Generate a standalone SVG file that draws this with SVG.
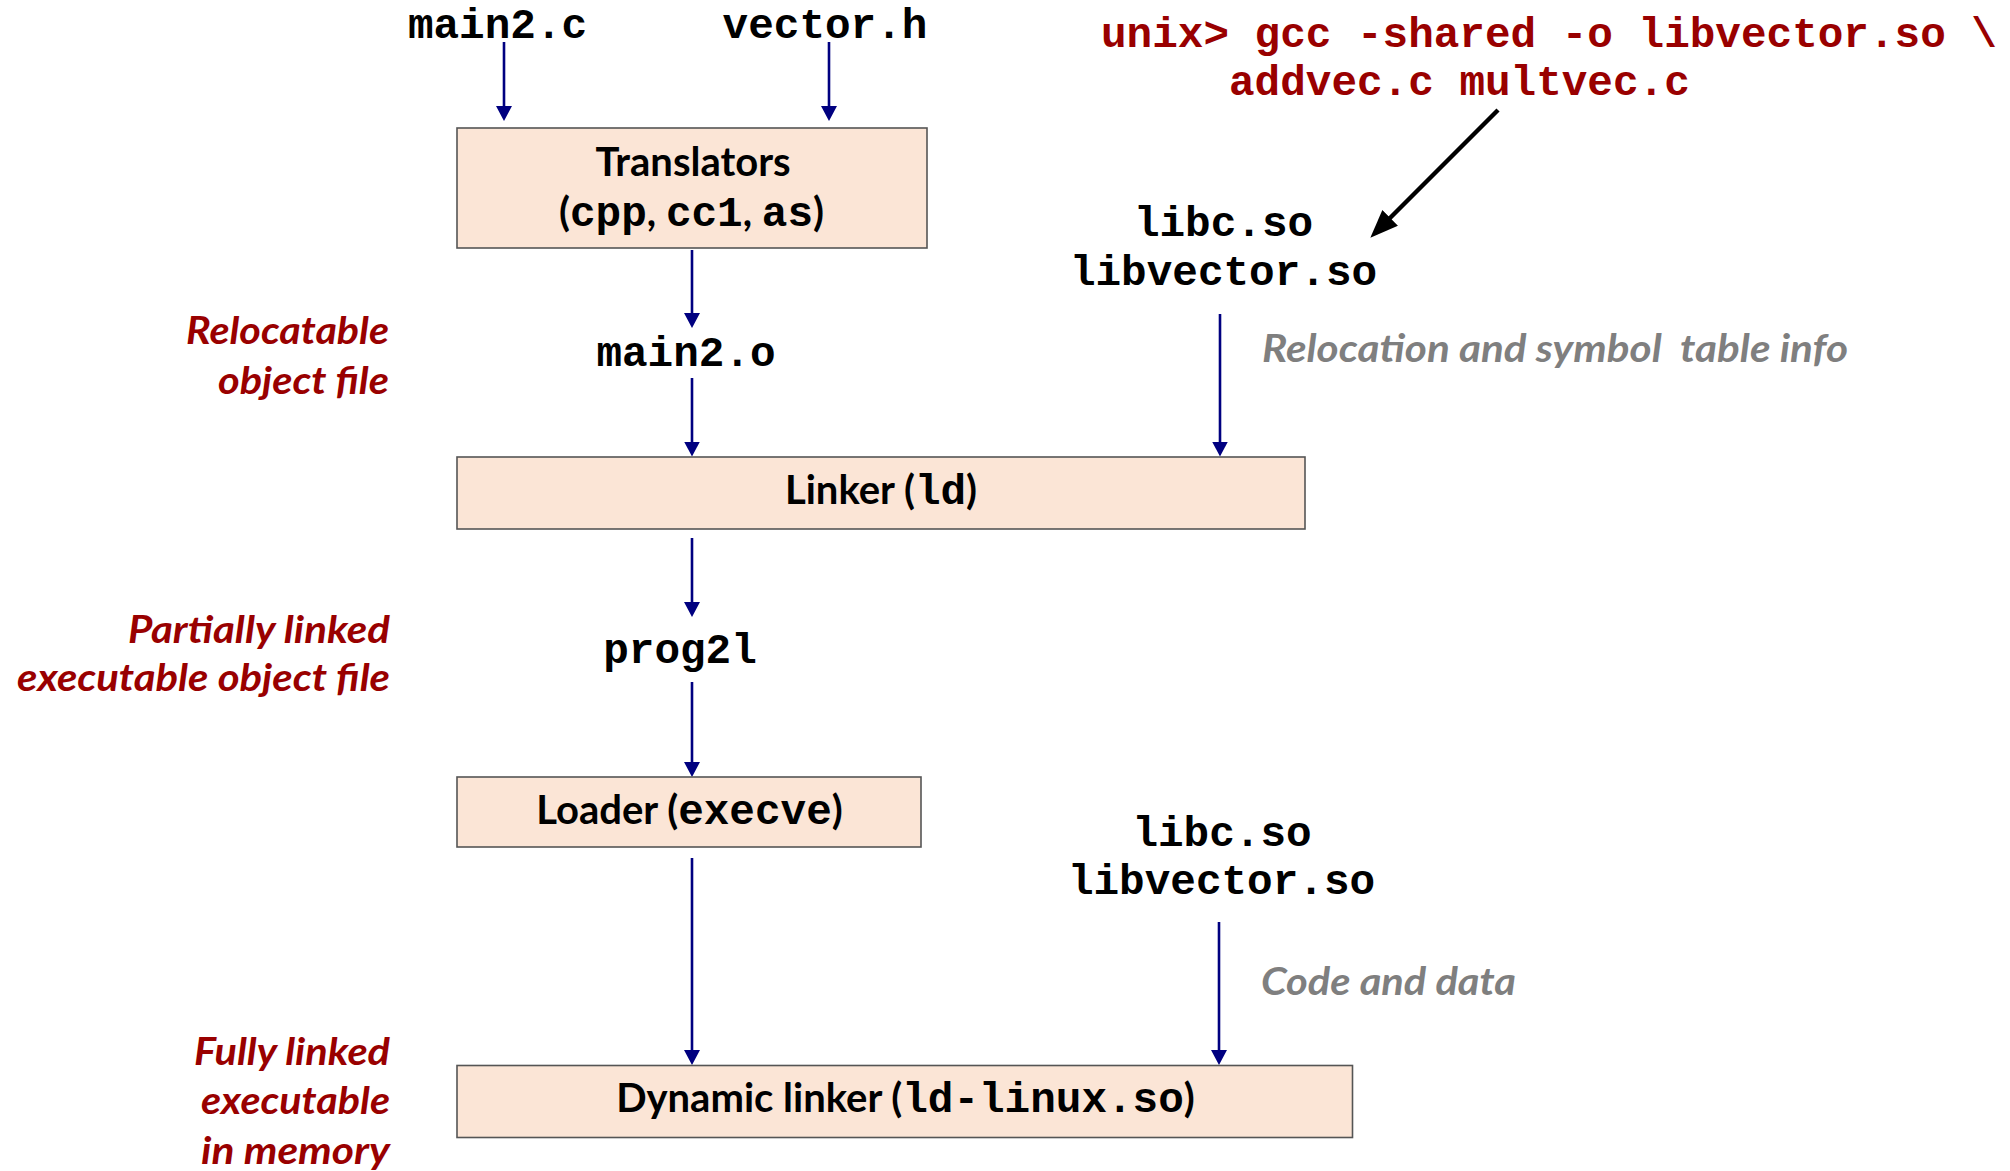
<svg xmlns="http://www.w3.org/2000/svg" width="2010" height="1171" viewBox="0 0 2010 1171">
<style>
.box{fill:#fbe5d6;stroke:#555555;stroke-width:1.6}
.code{font-family:"Liberation Mono","Courier New",monospace;font-weight:bold;font-size:42.67px;fill:#000}
.lbl{font-family:Lato,"Open Sans",sans-serif;font-weight:bold;font-size:40px;fill:#000}
.mono{font-family:"Liberation Mono","Courier New",monospace;font-weight:bold}
.red{font-family:Lato,"Open Sans",sans-serif;font-weight:bold;font-style:italic;font-size:38px;fill:#990000;text-anchor:end}
.gray{font-family:Lato,"Open Sans",sans-serif;font-weight:bold;font-style:italic;font-size:39px;fill:#7f7f7f}
.cmd{font-family:"Liberation Mono","Courier New",monospace;font-weight:bold;font-size:42.67px;fill:#990000}
.arr{stroke:#000080;stroke-width:2.6;fill:none;marker-end:url(#nav)}
</style>
<defs>
<marker id="nav" viewBox="0 0 15 16" markerWidth="15" markerHeight="16" refX="10" refY="8" orient="auto" markerUnits="userSpaceOnUse">
<path d="M0,0 L15,8 L0,16 z" fill="#000080"/>
</marker>
<marker id="blk" viewBox="0 0 28 22" markerWidth="28" markerHeight="22" refX="20" refY="11" orient="auto" markerUnits="userSpaceOnUse">
<path d="M0,0 L28,11 L0,22 z" fill="#000"/>
</marker>
</defs>

<g id="connectors">
<line class="arr" x1="504" y1="42" x2="504" y2="116"/>
<line class="arr" x1="829" y1="42" x2="829" y2="116"/>
<line class="arr" x1="692" y1="250" x2="692" y2="323"/>
<line class="arr" x1="692" y1="378" x2="692" y2="451.5"/>
<line class="arr" x1="1220" y1="314" x2="1220" y2="451.5"/>
<line class="arr" x1="692" y1="538" x2="692" y2="612"/>
<line class="arr" x1="692" y1="682" x2="692" y2="772"/>
<line class="arr" x1="692" y1="858" x2="692" y2="1060"/>
<line class="arr" x1="1219" y1="922" x2="1219" y2="1060"/>
<line x1="1498" y1="110" x2="1376" y2="232" stroke="#000" stroke-width="4.5" marker-end="url(#blk)"/>
</g>

<g id="src-main2c"><text class="code" x="497.5" y="38" text-anchor="middle">main2.c</text></g>
<g id="src-vectorh"><text class="code" x="825" y="38" text-anchor="middle">vector.h</text></g>

<g id="cmd">
<text class="cmd" x="1101" y="46.5">unix&gt; gcc -shared -o libvector.so \</text>
<text class="cmd" x="1229" y="94.5">addvec.c multvec.c</text>
</g>

<g id="translators">
<rect class="box" x="457" y="128" width="470" height="120"/>
<text class="lbl" x="693" y="176" text-anchor="middle">Translators</text>
<text class="lbl" x="691.5" y="226" text-anchor="middle">(<tspan class="mono" font-size="42.67">cpp</tspan>, <tspan class="mono" font-size="42.67">cc1</tspan>, <tspan class="mono" font-size="42.67">as</tspan>)</text>
</g>

<g id="main2o"><text class="code" x="686" y="365.5" text-anchor="middle">main2.o</text></g>

<g id="libs-top">
<text class="code" x="1223.5" y="236" text-anchor="middle">libc.so</text>
<text class="code" x="1223.5" y="284.5" text-anchor="middle">libvector.so</text>
</g>

<g id="reloc-info"><text class="gray" x="1262" y="362" textLength="586" lengthAdjust="spacingAndGlyphs" xml:space="preserve">Relocation and symbol  table info</text></g>

<g id="linker">
<rect class="box" x="457" y="457" width="848" height="72"/>
<text class="lbl" x="881" y="504" text-anchor="middle">Linker (<tspan class="mono" font-size="42.67">ld</tspan>)</text>
</g>

<g id="prog2l"><text class="code" x="680" y="662.5" text-anchor="middle">prog2l</text></g>

<g id="loader">
<rect class="box" x="457" y="777" width="464" height="70"/>
<text class="lbl" x="689.5" y="824" text-anchor="middle">Loader (<tspan class="mono" font-size="42.67">execve</tspan>)</text>
</g>

<g id="libs-bottom">
<text class="code" x="1222" y="845.5" text-anchor="middle">libc.so</text>
<text class="code" x="1221.5" y="893.5" text-anchor="middle">libvector.so</text>
</g>

<g id="code-data"><text class="gray" x="1261" y="995" textLength="255" lengthAdjust="spacingAndGlyphs">Code and data</text></g>

<g id="dynlinker">
<rect class="box" x="457" y="1065.5" width="895.5" height="72"/>
<text class="lbl" x="905.5" y="1112" text-anchor="middle">Dynamic linker (<tspan class="mono" font-size="42.67">ld-linux.so</tspan>)</text>
</g>

<g id="label-relocatable">
<text class="red" x="389" y="344" textLength="203" lengthAdjust="spacingAndGlyphs">Relocatable</text>
<text class="red" x="389" y="394" textLength="171" lengthAdjust="spacingAndGlyphs">object file</text>
</g>
<g id="label-partial">
<text class="red" x="390" y="643" textLength="262" lengthAdjust="spacingAndGlyphs">Partially linked</text>
<text class="red" x="390" y="691" textLength="373" lengthAdjust="spacingAndGlyphs">executable object file</text>
</g>
<g id="label-full">
<text class="red" x="390" y="1065" textLength="196" lengthAdjust="spacingAndGlyphs">Fully linked</text>
<text class="red" x="390" y="1114" textLength="189" lengthAdjust="spacingAndGlyphs">executable</text>
<text class="red" x="390" y="1164" textLength="189" lengthAdjust="spacingAndGlyphs">in memory</text>
</g>
</svg>
